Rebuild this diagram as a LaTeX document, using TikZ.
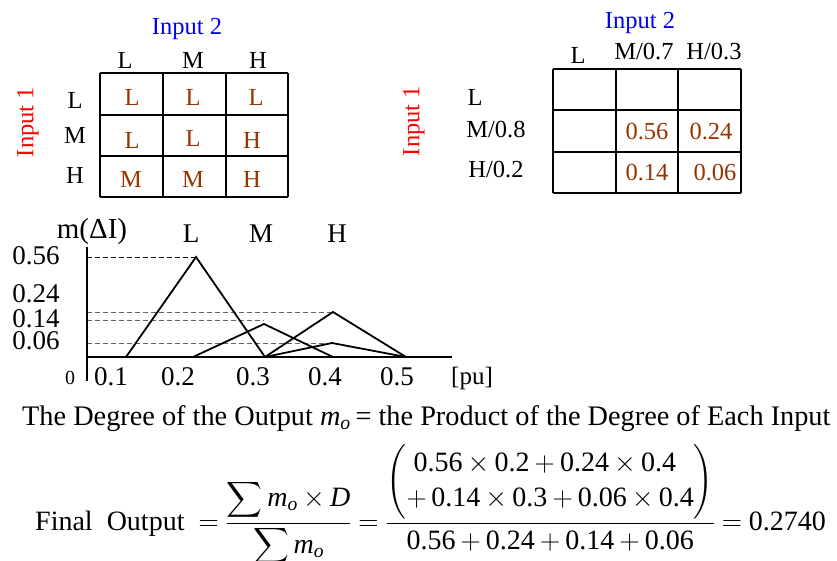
\documentclass[tikz,border=0pt]{standalone}
\usepackage{fix-cm}
\usepackage{amsmath}
\usepackage{fontspec}
\setmainfont{Liberation Serif}
\usepackage{tikz}
\usetikzlibrary{positioning}
\definecolor{cellbrown}{RGB}{153,51,0}
\newcommand{\nv}[1]{\text{#1}}

\begin{document}
\begin{tikzpicture}[x=1pt, y=-1pt,
  tab/.style={font=\fontsize{24.5}{26}\selectfont, inner sep=0pt},
  cell/.style={tab, text=cellbrown},
  num/.style={font=\fontsize{27}{29}\selectfont, inner sep=0pt},
  rule line/.style={line width=1.2pt},
  memb/.style={line width=1.8pt, line join=miter},
  guide/.style={dash pattern=on 5pt off 3pt, line width=0.8pt, gray!80!black}
]
\useasboundingbox (0,0) rectangle (837,561);

% rule table
\foreach \x in {100,163,226,288} \draw[rule line] (\x,73) -- (\x,197);
\foreach \y in {73,115,156,197} \draw[rule line] (100,\y) -- (288,\y);
\node[tab, text=blue] (in2a) at (187,29) {Input 2};
\node[tab, text=red, rotate=90] (in1a) at (28,122) {Input 1};
\foreach \t/\x [count=\i] in {L/125, M/193, H/258}
  \node[tab] (hda\i) at (\x,60) {\t};
\foreach \t/\y [count=\i] in {L/100, M/135, H/175}
  \node[tab] (rwa\i) at (75,\y) {\t};
\foreach \t/\x/\y [count=\i] in {L/132/97, L/193/97, L/256/97,
    L/132/140, L/193/138, H/252/140, M/131/179, M/193/179, H/252/179}
  \node[cell] (cla\i) at (\x,\y) {\t};

% degree table
\foreach \x in {553,616,678,741} \draw[rule line] (\x,69) -- (\x,193);
\foreach \y in {69,110,152,193} \draw[rule line] (553,\y) -- (741,\y);
\node[tab, text=blue] (in2b) at (640,23) {Input 2};
\node[tab, text=red, rotate=90] (in1b) at (414,121) {Input 1};
\node[tab] (hdb1) at (578,55) {L};
\node[tab] (hdb2) at (644,52) {M/0.7};
\node[tab] (hdb3) at (714,52) {H/0.3};
\node[tab] (rwb1) at (475,97) {L};
\node[tab] (rwb2) at (496,130) {M/0.8};
\node[tab] (rwb3) at (496,170) {H/0.2};
\foreach \t/\x/\y [count=\i] in {0.56/647/132, 0.24/711/132, 0.14/647/173, 0.06/715/173}
  \node[cell] (clb\i) at (\x,\y) {\t};

% membership functions
\coordinate (org) at (87,357);
\coordinate (Lpk) at (196,257);
\coordinate (Mpk) at (264,324);
\coordinate (Hpk) at (333,312);
\coordinate (hpk) at (332,343);
\draw[guide, black] (87,257) -- (Lpk);
\draw[guide] (87,312) -- (Hpk);
\draw[guide] (87,320) -- (264,320);
\draw[guide] (87,343) -- (hpk);
\draw[memb] (87,247) -- (87,381);
\draw[memb] (org) -- (452,357);
\draw[memb] (126,357) -- (Lpk) -- (265,357);
\draw[memb] (193,357) -- (Mpk) -- (333,357);
\draw[memb] (265,357) -- (Hpk) -- (406,357);
\draw[memb] (265,357) -- (hpk) -- (406,357);

\node[num, font=\fontsize{29}{31}\selectfont] (yname) at (92,232) {m(ΔI)};
\foreach \t/\x [count=\i] in {L/191, M/261, H/337}
  \node[num] (fn\i) at (\x,234) {\t};
\foreach \t/\y [count=\i] in {0.56/256, 0.24/294, 0.14/319, 0.06/341}
  \node[num] (yt\i) at (36,\y) {\t};
\foreach \t/\x [count=\i] in {0.1/111, 0.2/178, 0.3/253, 0.4/325, 0.5/397}
  \node[num] (xt\i) at (\x,377) {\t};
\node[num, font=\fontsize{20}{22}\selectfont] (zero) at (70,378) {0};
\node[num, font=\fontsize{25}{27}\selectfont] (unit) at (472,378) {[pu]};

% defuzzification
\node[anchor=base west, inner sep=0pt, font=\fontsize{28.3}{32}\selectfont] (degree) at (22,425)
  {The Degree of the Output \textit{m}$_{\textit{o}}$\,= the Product of the Degree of Each Input};
\node[anchor=base west, inner sep=0pt, font=\fontsize{28}{32}\selectfont] (final) at (35,530)
  {\medmuskip=3.3mu \thickmuskip=4.5mu
   Final\enspace Output $\;= \dfrac{\displaystyle\sum \textit{m}_{\textit{o}} \times \textit{D}}{\displaystyle\sum \textit{m}_{\textit{o}}}
   = \dfrac{\left(\begin{array}{@{}l@{}} \;\nv{0.56}\times\nv{0.2}+\nv{0.24}\times\nv{0.4}\\[3pt]
     +\,\nv{0.14}\times\nv{0.3}+\nv{0.06}\times\nv{0.4} \end{array}\right)}{\nv{0.56}+\nv{0.24}+\nv{0.14}+\nv{0.06}} = \nv{0.2740}$};
\end{tikzpicture}
\end{document}
